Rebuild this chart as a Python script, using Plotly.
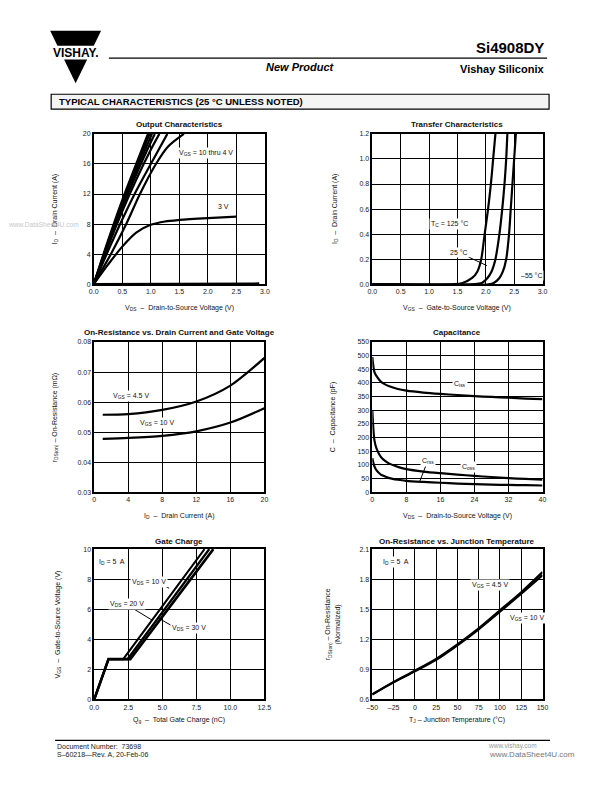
import plotly.graph_objects as go

# Reference page is 612x792; the browser body has an 8 px margin, so the
# figure is sized to fit inside the viewport and positions are shifted by it.
PAGE_W, PAGE_H = 612, 792
OFF = 8
W, H = PAGE_W - 2 * OFF, PAGE_H - 2 * OFF
FONT = "Liberation Sans, Arial, Helvetica, sans-serif"

# ---------------- data ----------------
# Output Characteristics (VDS in V, ID in A)
out_vds_10v = [0, 0.25, 0.5, 0.75, 0.95]
out_id_10v = [0, 5.8, 11.2, 16.1, 20]
out_vds_9v = [0, 0.25, 0.5, 0.75, 0.98]
out_id_9v = [0, 5.6, 10.9, 15.7, 20]
out_vds_8v = [0, 0.25, 0.5, 0.75, 1.02]
out_id_8v = [0, 5.4, 10.6, 15.2, 20]
out_vds_7v = [0, 0.25, 0.5, 0.75, 1.0, 1.07]
out_id_7v = [0, 5.2, 10.2, 14.7, 18.9, 20]
out_vds_6v = [0, 0.25, 0.5, 0.75, 1.0, 1.15]
out_id_6v = [0, 5.0, 9.7, 14.0, 17.9, 20]
out_vds_5v = [0, 0.25, 0.5, 0.75, 1.0, 1.29]
out_id_5v = [0, 4.4, 8.6, 12.5, 16.0, 20]
out_vds_4v = [0, 0.3, 0.57, 0.81, 1.09, 1.3, 1.58]
out_id_4v = [0, 4.0, 8.0, 12.0, 16.0, 18.3, 20]
out_vds_3v = [0, 0.25, 0.5, 0.75, 1.0, 1.25, 1.5, 2.0, 2.5]
out_id_3v = [0, 2.6, 5.0, 6.9, 7.9, 8.35, 8.55, 8.8, 9.0]
out_vds_2v = [0, 1.0, 2.0, 2.9]
out_id_2v = [0, 0.05, 0.08, 0.1]

# Transfer Characteristics (VGS in V, ID in A)
tr_id = [0, 0, 0.01, 0.05, 0.1, 0.2, 0.4, 0.6, 0.8, 1.0, 1.2]
tr_vgs_125 = [0, 1.45, 1.59, 1.76, 1.85, 1.92, 1.98, 2.04, 2.09, 2.13, 2.17]
tr_vgs_25 = [0, 1.8, 1.93, 2.03, 2.1, 2.17, 2.24, 2.29, 2.33, 2.36, 2.38]
tr_vgs_m55 = [0, 2.05, 2.14, 2.24, 2.3, 2.36, 2.41, 2.44, 2.47, 2.5, 2.53]

# On-Resistance vs Drain Current (ID in A, rDS(on) in ohm)
ron_id = [1, 4, 8, 12, 16, 20]
ron_vgs45 = [0.0558, 0.0560, 0.0574, 0.0602, 0.0655, 0.0747]
ron_vgs10 = [0.0478, 0.0481, 0.0488, 0.0503, 0.0532, 0.0580]

# Capacitance (VDS in V, C in pF)
cap_vds = [0, 0.5, 1, 2, 3, 4, 6, 8, 12, 16, 20, 24, 28, 32, 36, 40]
cap_ciss = [495, 440, 425, 405, 395, 388, 378, 372, 365, 360, 356, 352, 349, 346, 343, 341]
cap_coss = [300, 190, 160, 130, 115, 105, 93, 85, 76, 70, 65, 60, 56, 52, 49, 46]
cap_crss = [125, 95, 80, 65, 58, 52, 46, 42, 38, 35, 32, 30, 28, 27, 26, 25]

# Gate Charge (Qg in nC, VGS in V)
gc_qg_10v = [0, 1.05, 2.13, 8.1]
gc_qg_20v = [0, 1.05, 2.45, 8.45]
gc_qg_30v = [0, 1.05, 2.65, 8.75]
gc_vgs = [0, 2.68, 2.68, 10]

# On-Resistance vs Junction Temperature
tj = [-50, -25, 0, 25, 50, 75, 100, 125, 150]
rt_vgs45 = [0.65, 0.775, 0.887, 1.005, 1.15, 1.31, 1.49, 1.67, 1.87]
rt_vgs10 = [0.65, 0.77, 0.88, 0.995, 1.14, 1.30, 1.475, 1.655, 1.84]
tj_ticks = [-50, -25, 0, 25, 50, 75, 100, 125, 150]
tj_ticktext = ["\u201350", "\u201325", "0", "25", "50", "75", "100", "125", "150"]

# ---------------- helpers ----------------
def px(x):
    return (x - OFF) / W

def py(y):
    return 1 - (y - OFF) / H

fig = go.Figure()

def add_line(x, y, n, width=2.2, smooth=True):
    s = "" if n == 1 else str(n)
    line = dict(color="black", width=width)
    if smooth:
        line.update(shape="spline", smoothing=0.8)
    fig.add_trace(go.Scatter(x=x, y=y, mode="lines", line=line,
                             xaxis="x" + s, yaxis="y" + s,
                             showlegend=False, hoverinfo="skip"))

# Chart 1
for xs, ys in [(out_vds_10v, out_id_10v), (out_vds_9v, out_id_9v), (out_vds_8v, out_id_8v),
               (out_vds_7v, out_id_7v), (out_vds_6v, out_id_6v), (out_vds_5v, out_id_5v),
               (out_vds_4v, out_id_4v), (out_vds_3v, out_id_3v)]:
    add_line(xs, ys, 1)
add_line(out_vds_2v, out_id_2v, 1, smooth=False)
# Chart 2
for xs in [tr_vgs_125, tr_vgs_25, tr_vgs_m55]:
    add_line(xs, tr_id, 2)
# Chart 3
add_line(ron_id, ron_vgs45, 3)
add_line(ron_id, ron_vgs10, 3)
# Chart 4
add_line(cap_vds, cap_ciss, 4)
add_line(cap_vds, cap_coss, 4)
add_line(cap_vds, cap_crss, 4)
# Chart 5
add_line(gc_qg_10v, gc_vgs, 5, width=2.0, smooth=False)
add_line(gc_qg_20v, gc_vgs, 5, width=2.4, smooth=False)
add_line(gc_qg_30v, gc_vgs, 5, width=2.6, smooth=False)
# Chart 6
add_line(tj, rt_vgs45, 6, width=2.2)
add_line(tj, rt_vgs10, 6, width=2.2)

# plot areas (page pixels): left, right, top, bottom
boxes = {
    1: (89.5, 264.5, 131, 282.7),
    2: (374.3, 548.3, 131, 282.7),
    3: (90, 264, 341, 492.7),
    4: (374.3, 548.3, 341, 492.7),
    5: (90, 264, 550, 701.7),
    6: (374.3, 548.3, 550, 701.7),
}
axcfg = {
    1: dict(xr=[0, 3], xd=0.5, xf=".1f", yr=[0, 20], yd=4, yf="d"),
    2: dict(xr=[0, 3], xd=0.5, xf=".1f", yr=[0, 1.2], yd=0.2, yf=".1f"),
    3: dict(xr=[0, 20], xd=4, xf="d", yr=[0.03, 0.08], yd=0.01, yf=".2f"),
    4: dict(xr=[0, 40], xd=8, xf="d", yr=[0, 550], yd=50, yf="d"),
    5: dict(xr=[0, 12.5], xd=2.5, xf=".1f", yr=[0, 10], yd=2, yf="d"),
    6: dict(xr=[-50, 150], xd=25, xf="d", yr=[0.6, 2.1], yd=0.3, yf=".1f"),
}
tickfont = dict(family=FONT, size=7, color="#222")
layout = {}
for n, (l, r, t, b) in boxes.items():
    c = axcfg[n]
    s = "" if n == 1 else str(n)
    xa = dict(domain=[px(l), px(r)], range=c["xr"], tick0=c["xr"][0], dtick=c["xd"],
              tickformat=c["xf"], showgrid=True, gridcolor="black", gridwidth=1.2,
              showline=True, linecolor="black", linewidth=1.5, mirror=True, zeroline=False,
              ticks="", tickfont=tickfont, anchor="y" + s, fixedrange=True)
    ya = dict(domain=[py(b), py(t)], range=c["yr"], tick0=c["yr"][0], dtick=c["yd"],
              tickformat=c["yf"], showgrid=True, gridcolor="black", gridwidth=1.2,
              showline=True, linecolor="black", linewidth=1.5, mirror=True, zeroline=False,
              ticks="", tickfont=tickfont, anchor="x" + s, fixedrange=True)
    if n == 6:
        xa.update(tickmode="array", tickvals=tj_ticks, ticktext=tj_ticktext)
    layout["xaxis" + s] = xa
    layout["yaxis" + s] = ya

ann = []
shapes = []

def ptext(x, y, text, size=7, bold=False, xanchor="center", angle=0, color="#111", italic=False):
    t = text
    if bold:
        t = "<b>" + t + "</b>"
    if italic:
        t = "<i>" + t + "</i>"
    ann.append(dict(x=px(x), y=py(y), xref="paper", yref="paper", text=t, showarrow=False,
                    xanchor=xanchor, yanchor="middle", textangle=angle,
                    font=dict(family=FONT, size=size, color=color)))

def dtext(n, x, y, text, size=7, bg="white"):
    s = "" if n == 1 else str(n)
    ann.append(dict(x=x, y=y, xref="x" + s, yref="y" + s, text=text, showarrow=False,
                    xanchor="center", yanchor="middle", bgcolor=bg, borderpad=1,
                    font=dict(family=FONT, size=size, color="#111")))

def dline(n, x0, y0, x1, y1, w=1.0):
    s = "" if n == 1 else str(n)
    shapes.append(dict(type="line", xref="x" + s, yref="y" + s, x0=x0, y0=y0, x1=x1, y1=y1,
                       line=dict(color="black", width=w)))

# chart titles
ptext(177, 122, "Output Characteristics", 8, bold=True)
ptext(461, 122, "Transfer Characteristics", 8, bold=True)
ptext(177, 331, "On-Resistance vs. Drain Current and Gate Voltage", 8, bold=True)
ptext(461, 331, "Capacitance", 8, bold=True)
ptext(177, 542, "Gate Charge", 8, bold=True)
ptext(461, 542, "On-Resistance vs. Junction Temperature", 8, bold=True)

# axis titles
ptext(177, 307, "V<sub>DS</sub>  \u2013  Drain-to-Source Voltage (V)", 7)
ptext(461, 307, "V<sub>GS</sub>  \u2013  Gate-to-Source Voltage (V)", 7)
ptext(177, 517, "I<sub>D</sub>  \u2013  Drain Current (A)", 7)
ptext(461, 517, "V<sub>DS</sub>  \u2013  Drain-to-Source Voltage (V)", 7)
ptext(177, 722, "Q<sub>g</sub>  \u2013  Total Gate Charge (nC)", 7)
ptext(461, 722, "T<sub>J</sub> \u2013 Junction Temperature (\u00b0C)", 7)
ptext(50, 207, "I<sub>D</sub>  \u2013  Drain Current (A)", 7, angle=-90)
ptext(336, 207, "I<sub>D</sub>  \u2013  Drain Current (A)", 7, angle=-90)
ptext(50, 417, "r<sub>DS(on)</sub> \u2013 On-Resistance (m\u03a9)", 7, angle=-90)
ptext(334, 417, "C  \u2013  Capacitance (pF)", 7, angle=-90)
ptext(53, 626, "V<sub>GS</sub>  \u2013  Gate-to-Source Voltage (V)", 7, angle=-90)
ptext(334, 626, "r<sub>DS(on)</sub> \u2013 On-Resistance<br>(Normalized)", 7, angle=-90)

# in-plot labels
dtext(1, 1.96, 17.4, "V<sub>GS</sub> = 10 thru 4 V")
dtext(1, 2.28, 10.4, "3 V")
dtext(2, 1.36, 0.478, "T<sub>C</sub> = 125 \u00b0C")
dtext(2, 1.53, 0.25, "25 \u00b0C")
dline(2, 1.65, 0.227, 2.02, 0.148)
dtext(2, 2.81, 0.066, "\u201355 \u00b0C")
dtext(3, 4.29, 0.062, "V<sub>GS</sub> = 4.5 V")
dtext(3, 7.36, 0.0531, "V<sub>GS</sub> = 10 V")
dtext(4, 20.5, 397, "C<sub>iss</sub>")
dtext(4, 13.0, 115, "C<sub>rss</sub>")
dtext(4, 22.5, 92, "C<sub>oss</sub>")
dline(4, 12.6, 98, 11.1, 38)
dtext(5, 1.27, 9.12, "I<sub>D</sub> = 5  A")
dtext(5, 4.02, 7.8, "V<sub>DS</sub> = 10 V")
dline(5, 4.95, 7.62, 5.5, 7.4)
dtext(5, 2.39, 6.35, "V<sub>DS</sub> = 20 V")
dline(5, 2.87, 6.04, 4.26, 5.27)
dtext(5, 6.99, 4.73, "V<sub>DS</sub> = 30 V")
dline(5, 4.67, 5.43, 5.63, 4.94)
dtext(6, -22.4, 1.97, "I<sub>D</sub> = 5  A")
dtext(6, 88.7, 1.744, "V<sub>GS</sub> = 4.5 V")
dtext(6, 131.6, 1.415, "V<sub>GS</sub> = 10 V")

# ---------------- page furniture ----------------
def ppath(pts):
    return "M " + " L ".join(f"{px(x):.5f},{py(y):.5f}" for x, y in pts) + " Z"

# Vishay logo
shapes.append(dict(type="path", xref="paper", yref="paper",
                   path=ppath([(45, 27), (97, 27), (89.6, 42), (52.4, 42)]),
                   fillcolor="black", line=dict(width=0)))
shapes.append(dict(type="path", xref="paper", yref="paper",
                   path=ppath([(59.2, 56), (82.8, 56), (71, 80)]),
                   fillcolor="black", line=dict(width=0)))
ptext(71, 49.5, "VISHAY.", 12, bold=True, color="black")

# header
shapes.append(dict(type="line", xref="paper", yref="paper", x0=px(105), x1=px(553),
                   y0=py(54.5), y1=py(54.5), line=dict(color="black", width=1.3)))
ptext(552, 44, "Si4908DY", 15, bold=True, xanchor="right", color="black")
ptext(301, 64, "New Product", 11, bold=True, italic=True, color="black")
ptext(552, 66, "Vishay Siliconix", 11, bold=True, xanchor="right", color="black")

# section box
shapes.append(dict(type="rect", xref="paper", yref="paper", x0=px(46), x1=px(555),
                   y0=py(106), y1=py(91), fillcolor="#f4f4f4",
                   line=dict(color="black", width=1.2), layer="below"))
ptext(52, 98.5, "TYPICAL CHARACTERISTICS (25 \u00b0C UNLESS NOTED)", 9.5, bold=True,
      xanchor="left", color="black")

# watermark
ptext(77, 222, "www.DataSheet4U.com", 6.6, xanchor="right", color="#c8c8c8")

# footer
shapes.append(dict(type="line", xref="paper", yref="paper", x0=px(50), x1=px(556),
                   y0=py(743), y1=py(743), line=dict(color="black", width=1.2)))
ptext(50, 749, "Document Number:  73698", 7, xanchor="left", color="#222")
ptext(50, 757.5, "S\u201360218\u2014Rev. A, 20-Feb-06", 7, xanchor="left", color="#222")
ptext(545, 749, "www.vishay.com", 6.5, xanchor="right", color="#999")
ptext(584, 757.5, "www.DataSheet4U.com", 8, xanchor="right", color="#777")

fig.update_layout(
    width=W, height=H, margin=dict(l=0, r=0, t=0, b=0, pad=0),
    paper_bgcolor="white", plot_bgcolor="white",
    annotations=ann, shapes=shapes, showlegend=False,
    font=dict(family=FONT, size=7, color="#222"),
    **layout,
)

fig.write_html("out.html")
